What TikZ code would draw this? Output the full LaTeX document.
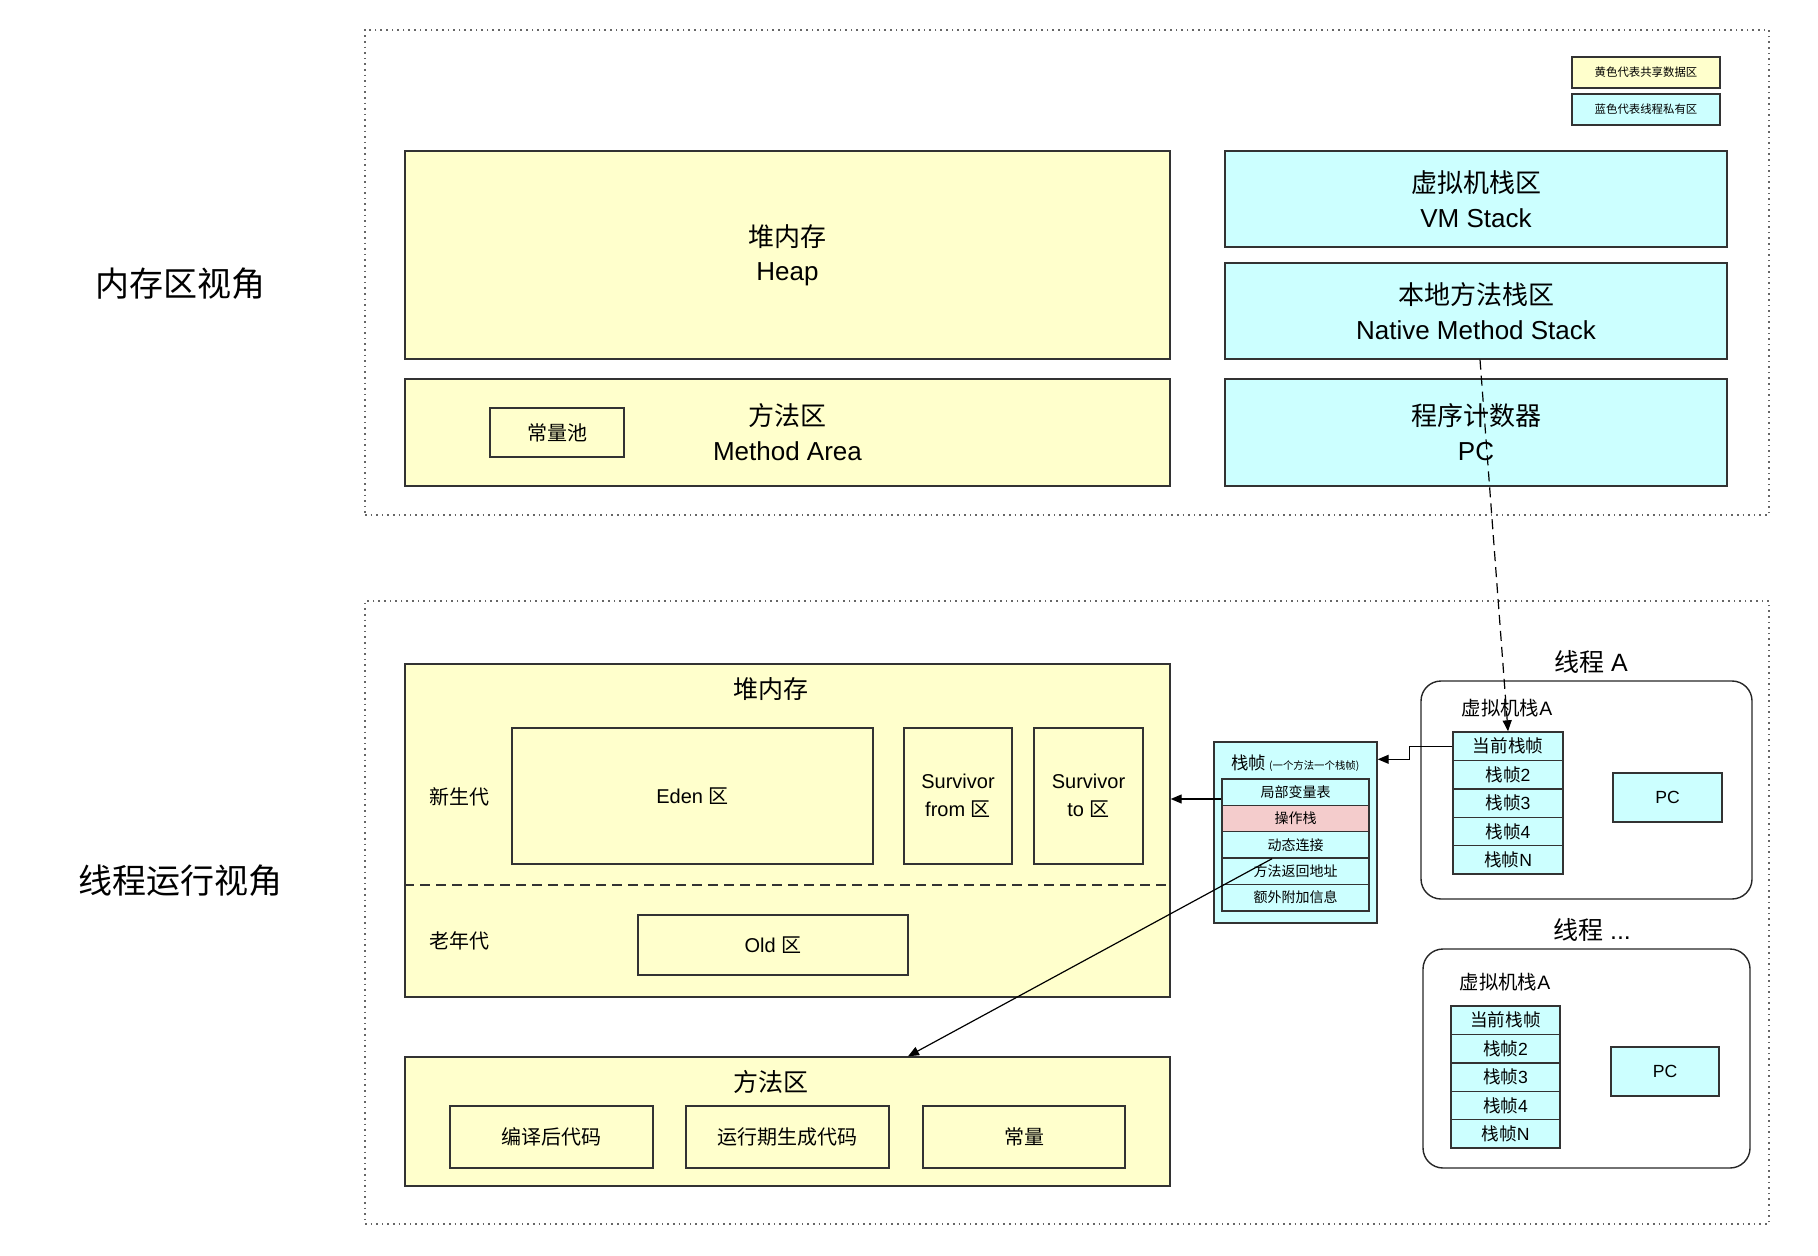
\documentclass[tikz,border=0pt]{standalone}
\usepackage{fontspec}
\setmainfont{Liberation Sans}
\newfontfamily\cjk{Noto Sans CJK SC}
\usetikzlibrary{arrows.meta,calc}
\definecolor{yel}{HTML}{FFFFCC}
\definecolor{blu}{HTML}{CCFFFF}
\definecolor{pnk}{HTML}{F4CCCC}
\definecolor{linec}{HTML}{333333}
\newcommand\zh[1]{{\cjk #1}}
\newcommand\fsA{\fontsize{13}{17.5}\selectfont}
\newcommand\fsB{\fontsize{10}{14}\selectfont}
\newcommand\fsC{\fontsize{12.5}{15}\selectfont}
\newcommand\fsD{\fontsize{8.7}{10}\selectfont}
\newcommand\fsE{\fontsize{7}{8.5}\selectfont}
\newcommand\fsF{\fontsize{9.7}{11}\selectfont}
\newcommand\fsG{\fontsize{8.8}{10}\selectfont}
\begin{document}
\begin{tikzpicture}[x=0.5pt,y=-0.5pt,
 sz/.style 2 args={minimum width=#1*0.5pt, minimum height=#2*0.5pt},
 base/.style={draw=linec, line width=0.7pt, inner sep=0pt, align=center, text=black},
 ybox/.style={base, fill=yel},
 bbox/.style={base, fill=blu},
 pbox/.style={base, fill=pnk},
 frame/.style={draw=gray!80!black, dotted, line width=0.8pt, inner sep=0pt},
 thr/.style={draw=black!85, line width=0.7pt, rounded corners=10pt, inner sep=0pt},
 arr/.style={-{Triangle[length=5.5pt,width=4.5pt]}, line width=0.6pt},
 lbl/.style={inner sep=0pt, align=center},
]
\useasboundingbox (0,0) rectangle (1818,1256);
% frames
\node[frame, sz={1404}{485}] (ftop) at (1067,272.5) {};
\node[frame, sz={1404}{623}] (fbot) at (1067,912.5) {};
\node[lbl, font=\fontsize{17}{20}\selectfont] (t1) at (180,284) {\zh{内存区视角}};
\node[lbl, font=\fontsize{17}{20}\selectfont] (t2) at (180,881) {\zh{线程运行视角}};
% legend
\node[ybox, sz={148}{31}, font=\fontsize{5.7}{7}\selectfont] (lg1) at (1646,72.5) {\zh{黄色代表共享数据区}};
\node[bbox, sz={148}{31}, font=\fontsize{5.7}{7}\selectfont] (lg2) at (1646,109.5) {\zh{蓝色代表线程私有区}};
% top view
\node[ybox, sz={765}{208}, font=\fontsize{13}{16.8}\selectfont] (heapT) at (787.5,255) {\zh{堆内存}\\Heap};
\node[ybox, sz={765}{107}, font=\fsA] (methT) at (787.5,432.5) {\zh{方法区}\\Method Area};
\node[ybox, sz={134}{49}, font=\fsB] (pool) at (557,432.5) {\zh{常量池}};
\node[bbox, sz={502}{96}, font=\fsA] (vms) at (1476,199) {\zh{虚拟机栈区}\\VM Stack};
\node[bbox, sz={502}{96}, font=\fsA] (nms) at (1476,311) {\zh{本地方法栈区}\\Native Method Stack};
\node[bbox, sz={502}{107}, font=\fsA] (pcT) at (1476,432.5) {\zh{程序计数器}\\PC};
% bottom heap
\node[ybox, sz={765}{333}] (heapB) at (787.5,830.5) {};
\node[lbl, font=\fsC] (heapBt) at (771,689) {\zh{堆内存}};
\node[lbl, font=\fsB] (young) at (459,797) {\zh{新生代}};
\node[lbl, font=\fsB] (oldg) at (459,941) {\zh{老年代}};
\node[ybox, sz={361}{136}, font=\fsB] (eden) at (692.5,796) {Eden \zh{区}};
\node[ybox, sz={108}{136}, font=\fsB] (sfrom) at (958,796) {Survivor\\from \zh{区}};
\node[ybox, sz={109}{136}, font=\fsB] (sto) at (1088.5,796) {Survivor\\to \zh{区}};
\coordinate (dl) at (0,885);
\draw[line width=0.7pt, draw=linec, dash pattern=on 5pt off 3pt] (heapB.west |- dl) -- (heapB.east |- dl);
\node[ybox, sz={270}{60}, font=\fsB] (old) at (773,945) {Old \zh{区}};
% bottom method area
\node[ybox, sz={765}{129}] (methB) at (787.5,1121.5) {};
\node[lbl, font=\fsC] (methBt) at (771,1082) {\zh{方法区}};
\node[ybox, sz={203}{62}, font=\fsB] (c1) at (551.5,1137) {\zh{编译后代码}};
\node[ybox, sz={203}{62}, font=\fsB] (c2) at (787.5,1137) {\zh{运行期生成代码}};
\node[ybox, sz={202}{62}, font=\fsB] (c3) at (1024,1137) {\zh{常量}};
% stack frame
\node[bbox, sz={163}{181}] (sf) at (1295.5,832.5) {};
\node[lbl, anchor=west, font=\fsD] (sft) at (1231,763) {\zh{栈帧}\,{\fontsize{5.2}{6}\selectfont\zh{(一个方法一个栈帧)}}};
\node[bbox, sz={147}{26.4}, font=\fsE] (r1) at (1295.5,792) {\zh{局部变量表}};
\node[pbox, sz={147}{26.4}, font=\fsE] (r2) at (1295.5,818.4) {\zh{操作栈}};
\node[bbox, sz={147}{26.4}, font=\fsE] (r3) at (1295.5,844.8) {\zh{动态连接}};
\node[bbox, sz={147}{26.4}, font=\fsE] (r4) at (1295.5,871.2) {\zh{方法返回地址}};
\node[bbox, sz={147}{26.4}, font=\fsE] (r5) at (1295.5,897.6) {\zh{额外附加信息}};
% thread A
\node[thr, sz={331}{218}] (thA) at (1586.5,790) {};
\node[lbl, font=\fsC] (thAt) at (1591,662) {\zh{线程} A};
\node[lbl, font=\fsF] (vsA) at (1507,708) {\zh{虚拟机栈}A};
\node[bbox, sz={110}{28.4}, font=\fsG] (a1) at (1508,746.2) {\zh{当前栈帧}};
\node[bbox, sz={110}{28.4}, font=\fsG] (a2) at (1508,774.6) {\zh{栈帧}2};
\node[bbox, sz={110}{28.4}, font=\fsG] (a3) at (1508,803) {\zh{栈帧}3};
\node[bbox, sz={110}{28.4}, font=\fsG] (a4) at (1508,831.4) {\zh{栈帧}4};
\node[bbox, sz={110}{28.4}, font=\fsG] (a5) at (1508,859.8) {\zh{栈帧}N};
\node[bbox, sz={109}{49}, font=\fsG] (pcA) at (1667.5,797.5) {PC};
% thread ...
\node[thr, sz={327}{219}] (thB) at (1586.5,1058.5) {};
\node[lbl, font=\fsC] (thBt) at (1592,930) {\zh{线程} ...};
\node[lbl, font=\fsF] (vsB) at (1505,982) {\zh{虚拟机栈}A};
\node[bbox, sz={109}{28.4}, font=\fsG] (b1) at (1505.5,1020.2) {\zh{当前栈帧}};
\node[bbox, sz={109}{28.4}, font=\fsG] (b2) at (1505.5,1048.6) {\zh{栈帧}2};
\node[bbox, sz={109}{28.4}, font=\fsG] (b3) at (1505.5,1077) {\zh{栈帧}3};
\node[bbox, sz={109}{28.4}, font=\fsG] (b4) at (1505.5,1105.4) {\zh{栈帧}4};
\node[bbox, sz={109}{28.4}, font=\fsG] (b5) at (1505.5,1133.8) {\zh{栈帧}N};
\node[bbox, sz={108}{49}, font=\fsG] (pcB) at (1665,1071.5) {PC};
% connectors
\draw[arr, dash pattern=on 5pt off 3pt] ($(nms.south)+(4,0)$) -- (a1.north);
\draw[arr] (a1.west) -- ++(-43,0) |- ($(sf.north east)+(0,18)$);
\coordinate (h1) at ($(r1.west)+(0,7)$);
\draw[arr] (h1) -- (h1 -| heapB.east);
\draw[arr] ($(r3.south)+(-23.5,0)$) -- ($(methB.north)+(120.5,0)$);
\end{tikzpicture}
\end{document}
